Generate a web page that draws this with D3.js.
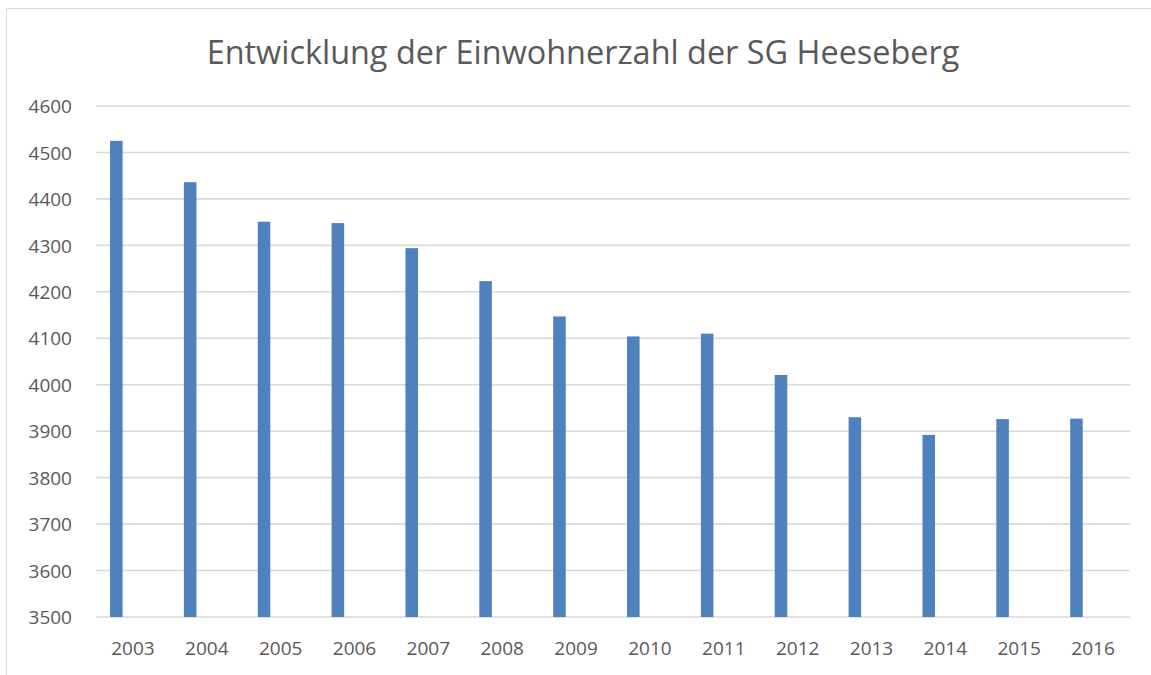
<!DOCTYPE html>
<html>
<head>
<meta charset="utf-8">
<script src="https://cdn.jsdelivr.net/npm/d3@7"></script>
<style>
  body { margin: 0; background: #fff; }
</style>
</head>
<body>
<div id="chart"></div>
<script>
const years = ["2003", "2004", "2005", "2006", "2007", "2008", "2009", "2010", "2011", "2012", "2013", "2014", "2015", "2016"];
const einwohner = [4525, 4436, 4351, 4348, 4294, 4223, 4147, 4104, 4110, 4021, 3930, 3892, 3926, 3927];
const yTicks = [3500, 3600, 3700, 3800, 3900, 4000, 4100, 4200, 4300, 4400, 4500, 4600];
const titleText = "Entwicklung der Einwohnerzahl der SG Heeseberg";

const width = 1151, height = 675;
const margin = { top: 106, right: 21, bottom: 58, left: 96 };
const textColor = "#595959";
const font = "'Open Sans', 'Liberation Sans', sans-serif";

const svg = d3.select("#chart").append("svg").attr("width", width).attr("height", height);

// outer chart border
svg.append("rect")
    .attr("x", 6.5).attr("y", 8.5)
    .attr("width", width).attr("height", height)
    .attr("fill", "none").attr("stroke", "#d9d9d9").attr("stroke-width", 1);

const x = d3.scaleBand().domain(years).range([margin.left, width - margin.right]);
const y = d3.scaleLinear().domain([3500, 4600]).range([height - margin.bottom, margin.top]);

// bar sits left of the category centre (like an Excel cluster with an empty 2nd series)
const barW = x.bandwidth() * 0.17;
const barOffset = x.bandwidth() * 0.19;

// gridlines
svg.append("g")
    .selectAll("line")
    .data(yTicks)
    .join("line")
    .attr("x1", margin.left).attr("x2", width - margin.right)
    .attr("y1", d => y(d)).attr("y2", d => y(d))
    .attr("stroke", "#d9d9d9").attr("stroke-width", 1.6);

// bars
svg.append("g")
    .selectAll("rect")
    .data(einwohner)
    .join("rect")
    .attr("x", (d, i) => x(years[i]) + barOffset)
    .attr("width", barW)
    .attr("y", d => y(d))
    .attr("height", d => y(3500) - y(d))
    .attr("fill", "#4f81bd");

// y axis labels
const yAxis = svg.append("g")
    .attr("transform", `translate(${margin.left - 24},0)`)
    .call(d3.axisLeft(y).tickValues(yTicks).tickSize(0).tickPadding(0).tickFormat(d3.format("d")));
yAxis.select(".domain").remove();
yAxis.selectAll("text")
    .attr("fill", textColor).attr("font-family", font).attr("font-size", 19).attr("dy", "0.35em");

// x axis labels
const xAxis = svg.append("g")
    .attr("transform", `translate(0,${y(3500)})`)
    .call(d3.axisBottom(x).tickSize(0).tickPadding(25));
xAxis.select(".domain").remove();
xAxis.selectAll("text")
    .attr("fill", textColor).attr("font-family", font).attr("font-size", 19);

// title, sized to match the original width
const title = svg.append("text")
    .attr("x", 583).attr("y", 64)
    .attr("text-anchor", "middle")
    .attr("fill", textColor).attr("font-family", font).attr("font-size", 30)
    .text(titleText);
const tw = title.node().getComputedTextLength();
title.attr("font-size", 30 * 753 / tw);
</script>
</body>
</html>
